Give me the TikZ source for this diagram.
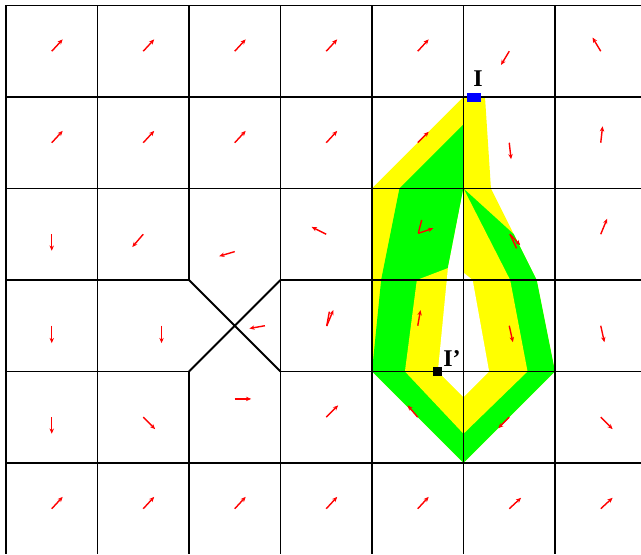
\documentclass[tikz,border=0pt]{standalone}
\usepackage{fontspec}
\setmainfont{Liberation Serif}
\usepackage{tikz}
\usetikzlibrary{
  arrows.meta,
  calc
}
\definecolor{tubeYellow}{HTML}{FFFF00}
\definecolor{tubeGreen}{HTML}{00FF00}
\definecolor{velRed}{HTML}{FF0000}
\definecolor{srcBlue}{HTML}{0000FF}
\tikzset{
  mesh/.style={draw=black, line width=0.9pt},
  vel/.style={-{Stealth[length=2.6pt, width=2.2pt]}, line width=0.7pt, velRed},
  velbar/.style={line width=0.7pt, velRed},
  outertube/.style={fill=tubeYellow},
  innertube/.style={fill=tubeGreen},
  hole/.style={fill=white},
  srcmark/.style={fill=srcBlue, inner sep=0pt, minimum width=7pt, minimum height=4.5pt},
  sinkmark/.style={fill=black, inner sep=0pt, minimum size=4.2pt},
  ptlabel/.style={font=\large\bfseries, inner sep=0pt}
}

\begin{document}
\begin{tikzpicture}[x=45.75pt, y=-45.75pt]
  \useasboundingbox (-0.0656,-0.06) rectangle (6.94,5.995);

  \fill[outertube] (5,1) -- (5.235,1) -- (5.3,2) -- (5.8,3) -- (6,4) -- (5,5) -- (4,4) -- (4,2) -- cycle;
  \fill[innertube] (5,1.3) -- (4.3,2) -- (4.1,3) -- (4,4) -- (5,5) -- (6,4) -- (5.8,3) -- (5.55,2.5) -- (5,2) -- cycle;
  \fill[outertube] (5,2) -- (4.83,2.87) -- (4.49,3) -- (4.36,4) -- (5,4.68) -- (5.7,4) -- (5.51,3) -- cycle;
  \fill[hole] (5,2) -- (4.83,2.87) -- (4.72,4) -- (5,4.28) -- (5.28,4) -- (5.1,3) -- (5,2.92) -- cycle;

  \foreach \gx in {0,1,3,4,5,6}
    \draw[mesh] (\gx,0) -- (\gx,5.995);
  \draw[mesh] (2,0) -- (2,3) (2,4) -- (2,5.995);
  \foreach \gy in {0,1,2,5}
    \draw[mesh] (0,\gy) -- (6.94,\gy);
  \foreach \gy in {3,4}
    \draw[mesh] (0,\gy) -- (2,\gy) (3,\gy) -- (6.94,\gy);
  \draw[mesh] (2,3) -- (3,4) (3,3) -- (2,4);

  \foreach \ax/\ay/\bx/\by in {
      0.5/0.5/0.62/0.37, 1.5/0.5/1.62/0.37, 2.5/0.5/2.62/0.37, 3.5/0.5/3.62/0.37,
      4.5/0.5/4.62/0.37, 5.5/0.5/5.41/0.65, 6.5/0.5/6.41/0.35,
      0.5/1.5/0.62/1.37, 1.5/1.5/1.62/1.37, 2.5/1.5/2.62/1.37, 3.5/1.5/3.62/1.37,
      4.5/1.5/4.62/1.38, 5.5/1.5/5.52/1.68, 6.5/1.5/6.52/1.32,
      0.5/2.5/0.5/2.68, 1.5/2.5/1.38/2.64, 2.5/2.69/2.33/2.74, 3.5/2.5/3.34/2.42,
      4.506/2.49/4.67/2.435, 5.508/2.5/5.62/2.62, 6.5/2.5/6.57/2.33,
      0.5/3.5/0.5/3.69, 1.7/3.5/1.7/3.69, 2.83/3.5/2.66/3.53, 3.505/3.503/3.578/3.328,
      4.5/3.5/4.53/3.33, 5.5/3.5/5.54/3.68, 6.5/3.5/6.54/3.68,
      0.5/4.5/0.5/4.68, 1.5/4.5/1.63/4.63, 2.5/4.3/2.68/4.3, 3.5/4.5/3.63/4.37,
      4.5/4.5/4.39/4.37, 5.5/4.5/5.38/4.62, 6.5/4.5/6.63/4.63,
      0.5/5.5/0.62/5.37, 1.5/5.5/1.62/5.37, 2.5/5.5/2.62/5.37, 3.5/5.5/3.62/5.37,
      4.5/5.5/4.62/5.37, 5.5/5.5/5.63/5.38, 6.5/5.5/6.63/5.38}
    \draw[vel] (\ax,\ay) -- (\bx,\by);
  \draw[velbar] (4.506,2.49) -- (4.543,2.344);
  \draw[velbar] (5.508,2.5) -- (5.58,2.655);
  \draw[velbar] (3.505,3.503) -- (3.534,3.346);

  \node[srcmark] (src) at (5.113,1.011) {};
  \node[ptlabel, anchor=base] (srcLabel) at (5.16,0.89) {I};
  \node[sinkmark] (sink) at (4.716,4.0) {};
  \node[ptlabel, anchor=base west] (sinkLabel) at (4.775,3.948) {I'};
\end{tikzpicture}
\end{document}
